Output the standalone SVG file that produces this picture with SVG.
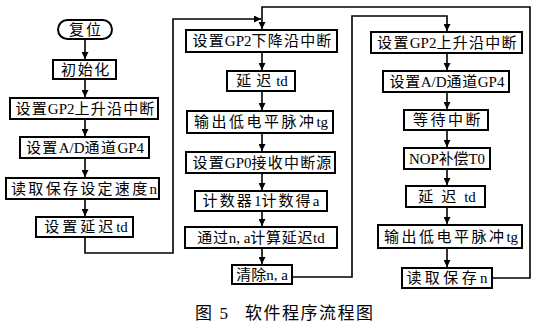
<svg xmlns="http://www.w3.org/2000/svg" width="538" height="331" viewBox="0 0 538 331">
<style>
.box{fill:#fff;stroke:#000;stroke-width:2}
.t{font-family:"Liberation Serif","Noto Sans CJK SC",serif;font-size:15px;fill:#000;text-anchor:middle;dominant-baseline:central}
.cap{font-family:"Liberation Serif","Noto Sans CJK SC",serif;font-size:17px;fill:#000;dominant-baseline:central}
.c{fill:none;stroke:#000;stroke-width:1.6}
</style>
<defs>
<marker id="ah" viewBox="0 0 10 10" refX="10" refY="5" markerWidth="7" markerHeight="7" markerUnits="userSpaceOnUse" orient="auto">
<path d="M0,0 L10,5 L0,10 z" fill="#000"/>
</marker>
</defs>
<g id="connectors">
<path class="c" d="M85,39 V59" marker-end="url(#ah)"/>
<path class="c" d="M85,79 V97" marker-end="url(#ah)"/>
<path class="c" d="M85,119 V136" marker-end="url(#ah)"/>
<path class="c" d="M85,158 V177" marker-end="url(#ah)"/>
<path class="c" d="M85,199 V216" marker-end="url(#ah)"/>
<path class="c" d="M85,237 V253 H173 V19 H261" marker-end="url(#ah)"/>
<path class="c" d="M492,278 H530 V7 H262 V29" marker-end="url(#ah)"/>
<path class="c" d="M262,52 V70" marker-end="url(#ah)"/>
<path class="c" d="M262,91 V110" marker-end="url(#ah)"/>
<path class="c" d="M262,133 V151" marker-end="url(#ah)"/>
<path class="c" d="M262,173 V190" marker-end="url(#ah)"/>
<path class="c" d="M262,211 V226" marker-end="url(#ah)"/>
<path class="c" d="M262,248 V264" marker-end="url(#ah)"/>
<path class="c" d="M292,277 H352 V16 H447 V31" marker-end="url(#ah)"/>
<path class="c" d="M447,53 V70" marker-end="url(#ah)"/>
<path class="c" d="M447,92 V109" marker-end="url(#ah)"/>
<path class="c" d="M447,130 V147" marker-end="url(#ah)"/>
<path class="c" d="M447,169 V185" marker-end="url(#ah)"/>
<path class="c" d="M447,207 V224" marker-end="url(#ah)"/>
<path class="c" d="M447,248 V267" marker-end="url(#ah)"/>
</g>
<g id="n1"><rect class="box" x="58" y="20" width="54" height="19" rx="9.5"/><text class="t" x="86" y="29.5"><tspan letter-spacing="2">复位</tspan></text></g>
<g id="n2"><rect class="box" x="53" y="60" width="63" height="19"/><text class="t" x="86" y="69.5"><tspan letter-spacing="1.7">初始化</tspan></text></g>
<g id="n3"><rect class="box" x="10" y="98" width="148" height="21"/><text class="t" x="85.5" y="108.5"><tspan letter-spacing="1.2">设置</tspan>GP2<tspan letter-spacing="1.2">上升沿中断</tspan></text></g>
<g id="n4"><rect class="box" x="20" y="137" width="129" height="21"/><text class="t" x="85" y="147.5"><tspan letter-spacing="1.4">设置</tspan>A/D<tspan letter-spacing="1.4">通道</tspan>GP4</text></g>
<g id="n5"><rect class="box" x="6" y="178" width="153" height="21"/><text class="t" x="84" y="188.5"><tspan letter-spacing="2.3">读取保存设定速度</tspan>n</text></g>
<g id="n6"><rect class="box" x="36" y="217" width="97" height="20"/><text class="t" x="86" y="227"><tspan letter-spacing="3">设置延迟</tspan>td</text></g>
<g id="m1"><rect class="box" x="186" y="30" width="151" height="22"/><text class="t" x="262.5" y="41"><tspan letter-spacing="1.2">设置</tspan>GP2<tspan letter-spacing="1.2">下降沿中断</tspan></text></g>
<g id="m2"><rect class="box" x="227" y="71" width="68" height="20"/><text class="t" x="262" y="81"><tspan letter-spacing="5">延迟</tspan>td</text></g>
<g id="m3"><rect class="box" x="187" y="111" width="146" height="22"/><text class="t" x="261" y="122"><tspan letter-spacing="2.5">输出低电平脉冲</tspan>tg</text></g>
<g id="m4"><rect class="box" x="186" y="152" width="149" height="21"/><text class="t" x="262.5" y="162.5"><tspan letter-spacing="1.2">设置</tspan>GP0<tspan letter-spacing="1.2">接收中断源</tspan></text></g>
<g id="m5"><rect class="box" x="195" y="191" width="132" height="20"/><text class="t" x="261" y="201"><tspan letter-spacing="2.1">计数器</tspan>1<tspan letter-spacing="2.1">计数得</tspan>a</text></g>
<g id="m6"><rect class="box" x="185" y="227" width="152" height="21"/><text class="t" x="261" y="237.5" xml:space="preserve"><tspan letter-spacing="0.7">通过</tspan>n, a<tspan letter-spacing="0.7">计算延迟</tspan>td</text></g>
<g id="m7"><rect class="box" x="232" y="265" width="60" height="19"/><text class="t" x="262" y="274.5" xml:space="preserve">清除n, a</text></g>
<g id="r1"><rect class="box" x="371" y="32" width="151" height="21"/><text class="t" x="447.5" y="42.5"><tspan letter-spacing="1.3">设置</tspan>GP2<tspan letter-spacing="1.3">上升沿中断</tspan></text></g>
<g id="r2"><rect class="box" x="383" y="71" width="126" height="21"/><text class="t" x="447" y="81.5"><tspan letter-spacing="0.6">设置</tspan>A/D<tspan letter-spacing="0.6">通道</tspan>GP4</text></g>
<g id="r3"><rect class="box" x="404" y="110" width="84" height="20"/><text class="t" x="448" y="120"><tspan letter-spacing="2.5">等待中断</tspan></text></g>
<g id="r4"><rect class="box" x="404" y="148" width="86" height="21"/><text class="t" x="447" y="158.5" textLength="76" lengthAdjust="spacingAndGlyphs">NOP补偿T0</text></g>
<g id="r5"><rect class="box" x="406" y="186" width="79" height="21"/><text class="t" x="447" y="196.5"><tspan letter-spacing="8">延迟</tspan>td</text></g>
<g id="r6"><rect class="box" x="378" y="225" width="144" height="23"/><text class="t" x="451" y="236.5"><tspan letter-spacing="2.5">输出低电平脉冲</tspan>tg</text></g>
<g id="r7"><rect class="box" x="402" y="268" width="90" height="20"/><text class="t" x="447" y="278"><tspan letter-spacing="3.4">读取保存</tspan>n</text></g>
<g id="caption">
<text class="cap" x="195" y="313" textLength="33" lengthAdjust="spacing">图 5</text>
<text class="cap" x="245" y="313" textLength="128" lengthAdjust="spacing">软件程序流程图</text>
</g>
</svg>
